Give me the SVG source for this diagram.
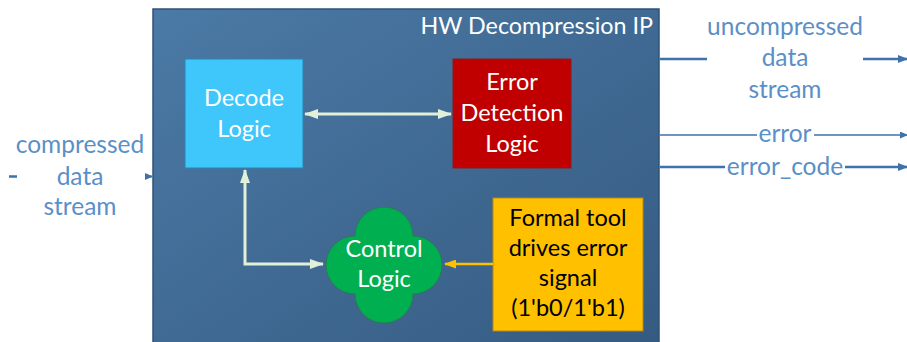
<svg xmlns="http://www.w3.org/2000/svg" width="907" height="342" viewBox="0 0 907 342">
<defs>
<linearGradient id="ipfill" x1="0" y1="0" x2="1" y2="1">
<stop offset="0" stop-color="#4b7aa6"/>
<stop offset="1" stop-color="#355a81"/>
</linearGradient>
<marker id="ahLight" viewBox="0 0 14 10" refX="13" refY="5" markerWidth="14" markerHeight="10" markerUnits="userSpaceOnUse" orient="auto-start-reverse">
<path d="M0,0 L14,5 L0,10 Z" fill="#e2f0d9"/>
</marker>
<marker id="ahOrange" viewBox="0 0 12 9" refX="11" refY="4.5" markerWidth="12" markerHeight="9" markerUnits="userSpaceOnUse" orient="auto">
<path d="M0,0 L12,4.5 L0,9 Z" fill="#ffc000"/>
</marker>
<marker id="ahBlue" viewBox="0 0 10 8" refX="9" refY="4" markerWidth="10" markerHeight="8" markerUnits="userSpaceOnUse" orient="auto">
<path d="M0,0 L10,4 L0,8 Z" fill="#3f72aa"/>
</marker>
<marker id="ahBlueS" viewBox="0 0 8 7" refX="7" refY="3.5" markerWidth="8" markerHeight="7" markerUnits="userSpaceOnUse" orient="auto">
<path d="M0,0 L8,3.5 L0,7 Z" fill="#3f72aa"/>
</marker>
</defs>
<style>
.t{font-family:Lato,"Liberation Sans",sans-serif;text-anchor:middle}
.w{fill:#ffffff;font-size:23.5px}
.k{fill:#000000;font-size:23.5px}
.lbl{fill:#5b8fc7;font-size:24.5px}
.blue{stroke:#3f72aa;fill:none}
.light{stroke:#e2f0d9;stroke-width:3;fill:none}
</style>

<g id="ip">
<rect x="153" y="9" width="506" height="345" fill="url(#ipfill)" stroke="#2e5377" stroke-width="1.5"/>
<text class="t w" x="653" y="34" style="text-anchor:end;font-size:23.3px">HW Decompression IP</text>
</g>

<g id="decode">
<rect x="185" y="59" width="118" height="109" fill="#3fc6fb" stroke="#2a86b0" stroke-width="1"/>
<text class="t w" x="244" y="106">Decode</text>
<text class="t w" x="244" y="137">Logic</text>
</g>

<g id="errdet">
<rect x="453" y="59" width="118" height="109" fill="#c00000" stroke="#8a1c1c" stroke-width="1"/>
<text class="t w" x="512" y="90">Error</text>
<text class="t w" x="512" y="121">Detection</text>
<text class="t w" x="512" y="152">Logic</text>
</g>

<g id="control">
<path d="M355,236 A29,29 0 0 1 413,236 A29,29 0 0 1 413,294 A29,29 0 0 1 355,294 A29,29 0 0 1 355,236 Z" fill="#00b050" stroke="#2a7a4c" stroke-width="0.8"/>
<text class="t w" x="384" y="257">Control</text>
<text class="t w" x="384" y="287">Logic</text>
</g>

<g id="formal">
<rect x="493" y="198" width="150" height="133" fill="#ffc000" stroke="#b88a10" stroke-width="1"/>
<text class="t k" x="568" y="226">Formal tool</text>
<text class="t k" x="568" y="256">drives error</text>
<text class="t k" x="568" y="286">signal</text>
<text class="t k" x="568" y="316">(1'b0/1'b1)</text>
</g>

<g id="in-label">
<text class="t lbl" x="80" y="153">compressed</text>
<text class="t lbl" x="80" y="185">data</text>
<text class="t lbl" x="80" y="215">stream</text>
</g>

<g id="out-label">
<text class="t lbl" x="785" y="35">uncompressed</text>
<text class="t lbl" x="785" y="66">data</text>
<text class="t lbl" x="785" y="98">stream</text>
</g>

<g id="connectors">
<path class="light" d="M305,114 H451" marker-start="url(#ahLight)" marker-end="url(#ahLight)"/>
<path class="light" d="M245,170 V264 H323" marker-start="url(#ahLight)" marker-end="url(#ahLight)"/>
<path d="M493,264 H445" stroke="#ffc000" stroke-width="2.5" fill="none" marker-end="url(#ahOrange)"/>
<path class="blue" stroke-width="2.5" d="M9,176.5 H17"/>
<path class="blue" stroke-width="2" d="M145,176.5 H152" marker-end="url(#ahBlueS)"/>
<path class="blue" stroke-width="2.5" d="M660,59 H707"/>
<path class="blue" stroke-width="2.5" d="M863,59 H907" marker-end="url(#ahBlue)"/>
<path class="blue" stroke-width="1.3" d="M660,135 H757"/>
<path class="blue" stroke-width="1.3" d="M814,135 H907" marker-end="url(#ahBlueS)"/>
<path class="blue" stroke-width="2.5" d="M660,167 H725"/>
<path class="blue" stroke-width="2.5" d="M845,167 H907" marker-end="url(#ahBlue)"/>
</g>

<g id="sig-labels">
<text class="t lbl" x="785" y="142">error</text>
<text class="t lbl" x="785" y="175">error_code</text>
</g>
</svg>
